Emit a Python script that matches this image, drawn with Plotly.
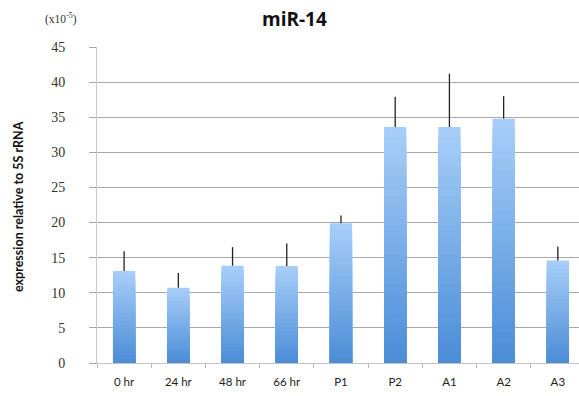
import plotly.graph_objects as go

categories = ["0 hr", "24 hr", "48 hr", "66 hr", "P1", "P2", "A1", "A2", "A3"]
values = [13.1, 10.7, 13.85, 13.8, 19.9, 33.6, 33.6, 34.8, 14.6]
err_tops = [15.9, 12.8, 16.5, 17.0, 21.0, 37.9, 41.2, 38.0, 16.6]
y_ticks = [0, 5, 10, 15, 20, 25, 30, 35, 40, 45]

err_plus = [t - v for t, v in zip(err_tops, values)]

top_rgb = (166, 205, 248)
bot_rgb = (76, 142, 216)
N = 24

fig = go.Figure()
for k in range(N):
    frac = (N - k) / N
    t = k / (N - 1)
    c = tuple(int(round(top_rgb[i] + (bot_rgb[i] - top_rgb[i]) * t)) for i in range(3))
    fig.add_trace(go.Bar(
        x=categories,
        y=[v * frac for v in values],
        width=0.41,
        marker=dict(color="rgb(%d,%d,%d)" % c, line=dict(width=0)),
        hoverinfo="skip",
        showlegend=False,
    ))

fig.add_trace(go.Scatter(
    x=categories, y=values, mode="markers",
    marker=dict(size=1, color="rgba(0,0,0,0)"),
    error_y=dict(type="data", symmetric=False, array=err_plus, arrayminus=[0] * len(values),
                 color="#222222", thickness=1.3, width=0),
    showlegend=False,
))

W, H = 579, 396
l, r, t, b = 97, 0, 47, 33
pw, ph = W - l - r, H - t - b

def px(x):
    return (x - l) / pw

def py(y):
    return (H - b - y) / ph

fig.update_layout(
    width=W, height=H,
    margin=dict(l=l, r=r, t=t, b=b),
    barmode="overlay",
    paper_bgcolor="white", plot_bgcolor="white",
    showlegend=False,
    xaxis=dict(
        type="category", range=[-0.5, 8.39],
        tickson="boundaries", ticks="outside", ticklen=4, tickcolor="#b8b8b8",
        showline=True, linecolor="#c4c4c4", linewidth=1,
        showgrid=False,
        tickfont=dict(family="Lato", size=11.5, color="#222222"),
        ticklabelstandoff=8,
    ),
    yaxis=dict(
        range=[0, 45], tickvals=y_ticks,
        ticks="outside", ticklen=7, tickcolor="#a8a8a8",
        showline=True, linecolor="#c8c8c8", linewidth=1,
        showgrid=True, gridcolor="#a8a8a8", gridwidth=1,
        zeroline=False,
        tickfont=dict(family="Liberation Serif", size=14, color="#333333"),
        ticklabelstandoff=21,
    ),
)

fig.add_annotation(text="<b>miR-14</b>", x=px(294), y=py(19), xref="paper", yref="paper",
                   xanchor="center", yanchor="middle",
                   showarrow=False, font=dict(family="Open Sans", size=19, color="#111111"))
fig.add_annotation(text="(x10<sup>-5</sup>)", x=px(61), y=py(19), xref="paper", yref="paper",
                   xanchor="center", yanchor="middle",
                   showarrow=False, font=dict(family="Liberation Serif", size=11.5, color="#333333"))
fig.add_annotation(text="<b>expression relative to 5S rRNA</b>", x=px(18), y=py(207),
                   xref="paper", yref="paper", xanchor="center", yanchor="middle",
                   textangle=-90, showarrow=False,
                   font=dict(family="Lato", size=12.5, color="#111111"))

fig.write_html("out.html")
